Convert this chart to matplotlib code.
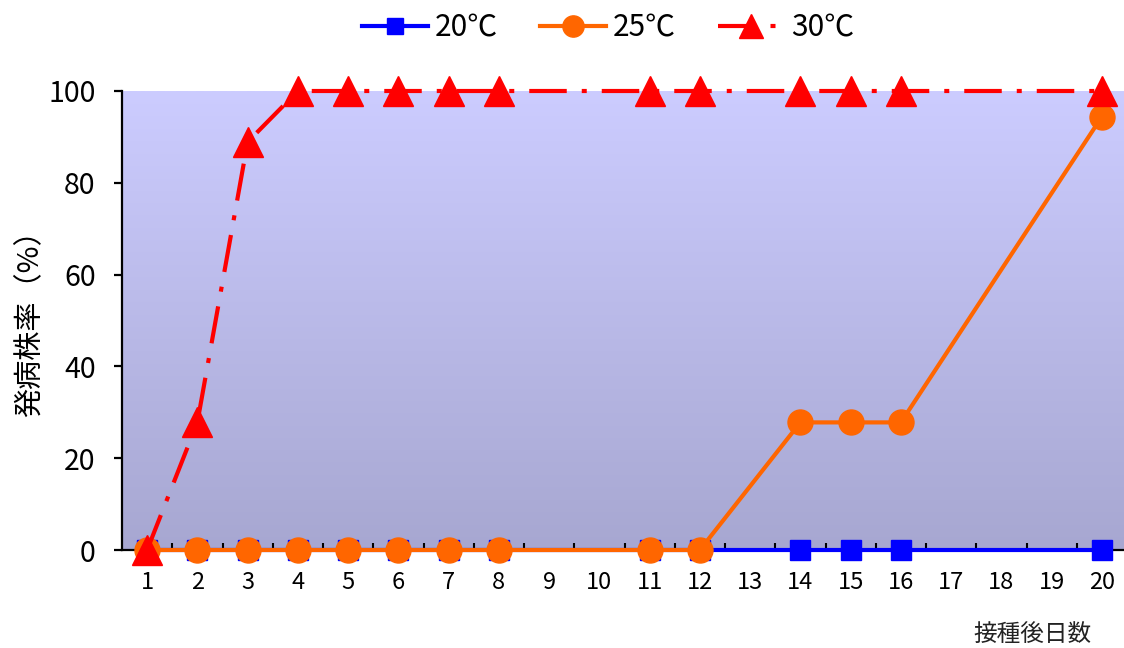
import numpy as np
import matplotlib
matplotlib.use('Agg')
import matplotlib.pyplot as plt
from matplotlib import ticker
from matplotlib.colors import LinearSegmentedColormap

plt.rcParams['font.family'] = ['Noto Sans CJK JP', 'DejaVu Sans']

# days after inoculation (category axis 1..20)
day_labels = [str(d) for d in range(1, 21)]
days = [1, 2, 3, 4, 5, 6, 7, 8, 11, 12, 14, 15, 16, 20]

# diseased plant rate (%)
rate_20 = [0, 0, 0, 0, 0, 0, 0, 0, 0, 0, 0, 0, 0, 0]
rate_25 = [0, 0, 0, 0, 0, 0, 0, 0, 0, 0, 27.8, 27.8, 27.8, 94.4]
rate_30 = [0, 27.8, 88.9, 100, 100, 100, 100, 100, 100, 100, 100, 100, 100, 100]

fig = plt.figure(figsize=(11.24, 6.48), dpi=100)
ax = fig.add_axes([122/1124, 98/648, 1005/1124, 459/648])

# gradient background of plot area
bg = LinearSegmentedColormap.from_list('bg', ['#a7a7d1', '#ccccff'])
grad = np.linspace(0, 1, 256).reshape(-1, 1)
ax.imshow(grad, cmap=bg, aspect='auto', origin='lower',
          extent=[0.5, 20.5, 0, 100], zorder=0)

ax.plot(days, rate_20, '-s', color='#0000ff', lw=3, ms=14, label='20℃',
        clip_on=False, zorder=3)
ax.plot(days, rate_25, '-o', color='#ff6600', lw=3, ms=18, label='25℃',
        clip_on=False, zorder=4)
l30, = ax.plot(days, rate_30, '-.^', color='#ff0000', lw=3, ms=21, label='30℃',
               clip_on=False, zorder=5)
l30.set_dashes((9, 3.6, 1.2, 3.6))
l30.set_dash_capstyle('butt')

ax.set_xlim(0.5, 20.5)
ax.set_ylim(0, 100)

for s in ['top', 'right']:
    ax.spines[s].set_visible(False)
ax.spines['left'].set_linewidth(1.6)
ax.spines['bottom'].set_linewidth(1.6)
ax.spines['left'].set_zorder(2)
ax.spines['bottom'].set_zorder(2)

ax.set_yticks([0, 20, 40, 60, 80, 100])
ax.tick_params(axis='y', direction='out', length=6, width=1.6, labelsize=20.5, pad=13)

ax.set_xticks(range(1, 21))
ax.set_xticklabels(day_labels)
ax.xaxis.set_minor_locator(ticker.FixedLocator(np.arange(1.5, 20.5, 1)))
ax.tick_params(axis='x', which='major', length=0, labelsize=17, pad=15)
ax.tick_params(axis='x', which='minor', direction='in', length=5, width=1.5)

# axis titles
fig.text(30/1124, 1 - 316/648, '発病株率（%）', fontsize=21, rotation=90,
         ha='center', va='center')
fig.text(1032/1124, 1 - 634/648, '接種後日数', fontsize=17, ha='center',
         va='center', color='#222222')

leg = ax.legend(loc='center', bbox_to_anchor=(608/1124, 1 - 28/648),
                bbox_transform=fig.transFigure, ncol=3, frameon=False,
                fontsize=21.5, markerscale=0.85, handlelength=2.2,
                handletextpad=0.25, columnspacing=1.4)

fig.savefig('out.png', dpi=100)
